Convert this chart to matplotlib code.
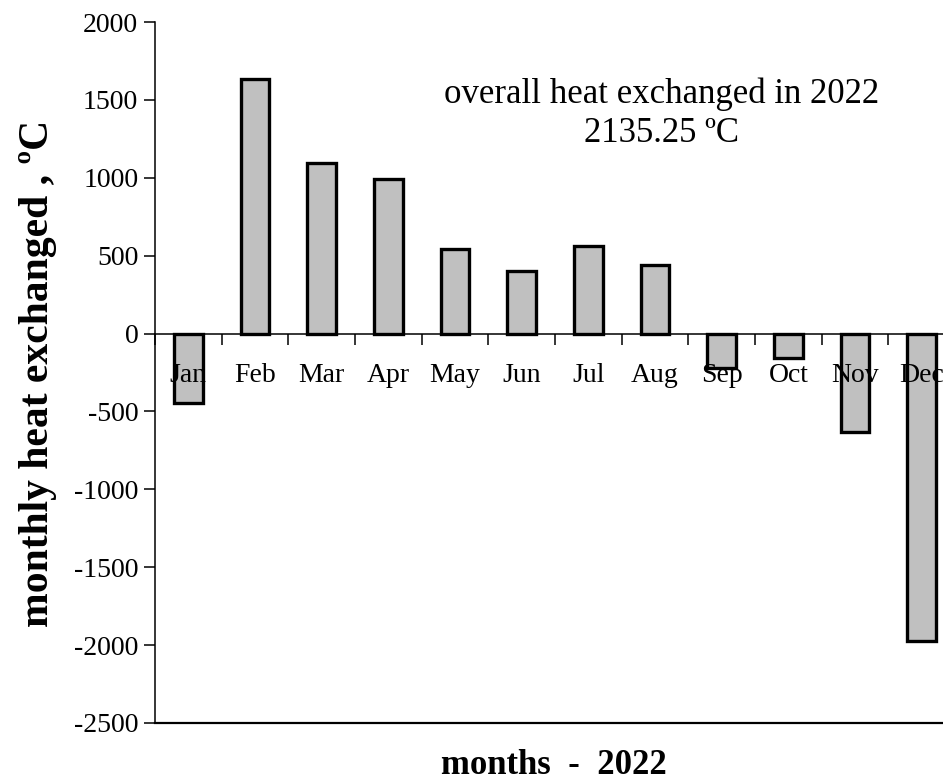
import matplotlib
matplotlib.use("Agg")
import matplotlib.pyplot as plt
import numpy as np

months = ["Jan", "Feb", "Mar", "Apr", "May", "Jun", "Jul", "Aug", "Sep", "Oct", "Nov", "Dec"]
heat = [-445, 1636, 1094, 991, 543, 400, 560, 442, -222, -158, -635, -1972]
y_ticks = [2000, 1500, 1000, 500, 0, -500, -1000, -1500, -2000, -2500]
note_text = "overall heat exchanged in 2022\n2135.25 ºC"

plt.rcParams['font.family'] = ['Liberation Serif', 'DejaVu Serif']

fig = plt.figure(figsize=(9.43, 7.8), dpi=100)
ax = fig.add_axes([155/943, 1-723/780, 800/943, (723-22)/780])

x = np.arange(len(months)) + 0.5
ax.bar(x, heat, width=0.43, color="#C0C0C0", edgecolor="black", linewidth=2.4, zorder=1.5)

ax.set_xlim(0, 12)
ax.set_ylim(-2500, 2000)
ax.set_yticks(y_ticks)
ax.set_yticklabels([str(v) for v in y_ticks], fontsize=20)

ax.spines['top'].set_visible(False)
ax.spines['right'].set_visible(False)
ax.spines['bottom'].set_position(('data', 0))
ax.spines['bottom'].set_linewidth(1.1)
ax.spines['left'].set_linewidth(1.1)

ax.set_xticks(np.arange(0, 13))
ax.set_xticklabels([])
ax.set_xticks(x, minor=True)
ax.set_xticklabels(months, minor=True, fontsize=20)
ax.tick_params(axis='x', which='major', direction='out', length=8, width=1.1)
ax.tick_params(axis='x', which='minor', length=0, pad=21)
ax.tick_params(axis='y', direction='out', length=8, width=1.1, pad=4)

ax.axhline(-2500, color='black', linewidth=1.6, clip_on=False)

ax.text(7.6, 1412, note_text, ha='center', va='center', fontsize=25, linespacing=1.25)

fig.text(38/943, 1-373/780, "monthly heat exchanged , ºC", rotation=90, ha='center', va='center',
         fontsize=30, fontweight='bold')
fig.text(554/943, 1-765/780, "months  -  2022", ha='center', va='center', fontsize=25, fontweight='bold')

fig.savefig("out.png", dpi=100)
